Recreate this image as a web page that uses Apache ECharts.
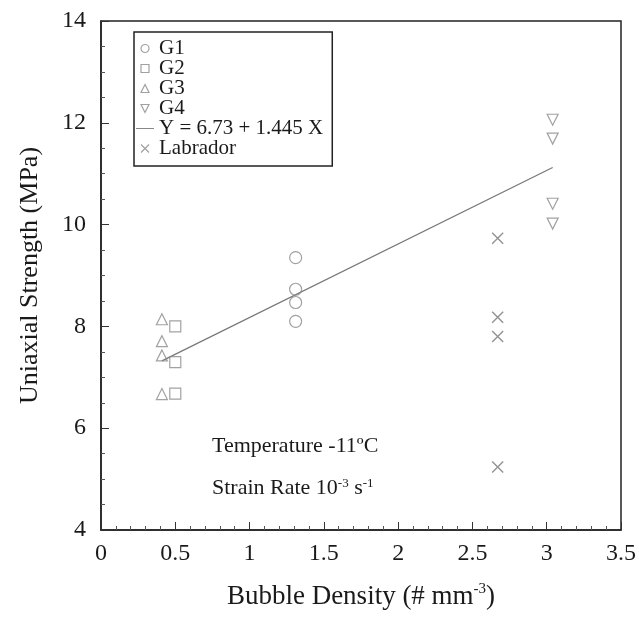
<!DOCTYPE html>
<html><head><meta charset="utf-8">
<script src="https://cdn.jsdelivr.net/npm/echarts@6/dist/echarts.min.js"></script>
<style>html,body{margin:0;padding:0;background:#fff}#c{width:639px;height:617px}</style>
</head><body><div id="c"></div>
<script>
// Data
const g1X = [1.31, 1.31, 1.31, 1.31];
const g1Y = [9.35, 8.73, 8.47, 8.10];
const g2X = [0.50, 0.50, 0.50];
const g2Y = [8.00, 7.30, 6.68];
const g3X = [0.41, 0.41, 0.41, 0.41];
const g3Y = [8.14, 7.71, 7.43, 6.67];
const g4X = [3.04, 3.04, 3.04, 3.04];
const g4Y = [12.06, 11.69, 10.41, 10.02];
const labX = [2.67, 2.67, 2.67, 2.67];
const labY = [9.73, 8.18, 7.80, 5.24];
const fitIntercept = 6.73;
const fitSlope = 1.445;
const fitRange = [0.41, 3.04];
const xTicks = [0, 0.5, 1, 1.5, 2, 2.5, 3, 3.5];
const yTicks = [4, 6, 8, 10, 12, 14];

const zip = (xs, ys) => xs.map((x, i) => [x, ys[i]]);
const fitData = fitRange.map(x => [x, +(fitIntercept + fitSlope * x).toFixed(3)]);

const FONT = '"Liberation Serif", "DejaVu Serif", serif';
const TXT = '#1a1a1a';
const MK = '#8a8a8a';
const hollow = {color: 'rgba(0,0,0,0)', borderColor: MK, borderWidth: 1.2};
const SQUARE = 'path://M0,0L10,0L10,10L0,10Z';
const TRI = 'path://M5,0L10,10L0,10Z';
const INV_TRI = 'path://M0,0L10,0L5,10Z';
const CROSS = 'path://M0,0L10,10M10,0L0,10';

const chart = echarts.init(document.getElementById('c'), null, {renderer: 'canvas'});
chart.setOption({
  backgroundColor: '#fff',
  animation: false,
  textStyle: {fontFamily: FONT},
  grid: {left: 101, right: 18, top: 21, bottom: 86, show: true, borderColor: '#222', borderWidth: 1.5, backgroundColor: 'transparent'},
  legend: {
    orient: 'vertical', left: 134, top: 32,
    itemWidth: 18, itemHeight: 8, itemGap: -1,
    padding: [6, 9, 7, 2],
    borderColor: '#222', borderWidth: 1.5,
    textStyle: {fontFamily: FONT, fontSize: 21, color: TXT, lineHeight: 19},
    data: [
      {name: 'G1', icon: 'circle', itemStyle: hollow},
      {name: 'G2', icon: SQUARE, itemStyle: hollow},
      {name: 'G3', icon: TRI, itemStyle: hollow},
      {name: 'G4', icon: INV_TRI, itemStyle: hollow},
      {name: 'Y = 6.73 + 1.445 X', icon: 'path://M0,5L18,5L18,5.7L0,5.7Z', itemStyle: {color: '#555'}},
      {name: 'Labrador', icon: CROSS, itemStyle: hollow}
    ]
  },
  xAxis: {
    type: 'value', min: xTicks[0], max: xTicks[xTicks.length - 1], interval: 0.5,
    name: 'Bubble Density (# mm{sup|-3})', nameLocation: 'middle', nameGap: 52,
    nameTextStyle: {fontFamily: FONT, fontSize: 27, color: TXT, lineHeight: 30,
      rich: {sup: {fontFamily: FONT, fontSize: 15, verticalAlign: 'top', color: TXT, lineHeight: 30, padding: [0, 0, 14, 0]}}},
    axisLine: {show: true, lineStyle: {color: '#222', width: 1.5}},
    axisTick: {show: true, inside: true, length: 8, lineStyle: {color: '#333'}},
    minorTick: {show: true, splitNumber: 5, length: 4, lineStyle: {color: '#555'}},
    splitLine: {show: false},
    axisLabel: {fontFamily: FONT, fontSize: 24, color: TXT, margin: 12,
      formatter: v => String(v)}
  },
  yAxis: {
    type: 'value', min: yTicks[0], max: yTicks[yTicks.length - 1], interval: 2,
    name: 'Uniaxial Strength (MPa)', nameLocation: 'middle', nameGap: 58, nameRotate: 90,
    nameTextStyle: {fontFamily: FONT, fontSize: 26, color: TXT},
    axisLine: {show: true, lineStyle: {color: '#222', width: 1.5}},
    axisTick: {show: true, inside: true, length: 8, lineStyle: {color: '#333'}},
    minorTick: {show: true, splitNumber: 4, length: 4, lineStyle: {color: '#555'}},
    splitLine: {show: false},
    axisLabel: {fontFamily: FONT, fontSize: 24, color: TXT, margin: 15}
  },
  series: [
    {name: 'G1', type: 'scatter', symbol: 'circle', symbolSize: 12, itemStyle: hollow, data: zip(g1X, g1Y)},
    {name: 'G2', type: 'scatter', symbol: SQUARE, symbolSize: 11, itemStyle: hollow, data: zip(g2X, g2Y)},
    {name: 'G3', type: 'scatter', symbol: TRI, symbolSize: 11, itemStyle: hollow, data: zip(g3X, g3Y)},
    {name: 'G4', type: 'scatter', symbol: INV_TRI, symbolSize: 11, itemStyle: hollow, data: zip(g4X, g4Y)},
    {name: 'Y = 6.73 + 1.445 X', type: 'line', symbol: 'none', lineStyle: {color: '#777', width: 1.2}, data: fitData, z: 1},
    {name: 'Labrador', type: 'scatter', symbol: CROSS, symbolSize: 11, itemStyle: {color: 'rgba(0,0,0,0)', borderColor: '#777', borderWidth: 1.4}, data: zip(labX, labY)}
  ],
  graphic: [
    {type: 'text', left: 212, top: 435, style: {text: 'Temperature -11ºC', font: '22px ' + FONT, fill: TXT}},
    {type: 'text', left: 212, top: 477, style: {
      text: 'Strain Rate 10{sup|-3} s{sup|-1}', font: '22px ' + FONT, fill: TXT,
      rich: {sup: {fontSize: 13, fontFamily: FONT, fill: TXT, verticalAlign: 'top', padding: [0, 0, 10, 0]}}}}
  ]
});
</script></body></html>
